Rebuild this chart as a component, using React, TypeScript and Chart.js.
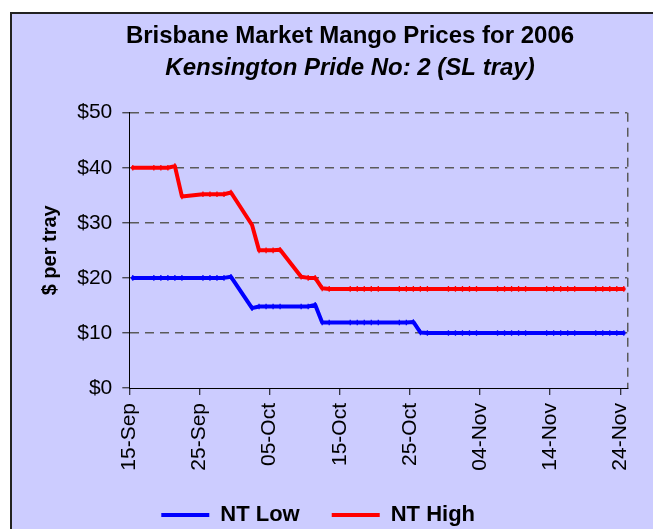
import React, { useEffect, useRef } from 'react';
import { Chart, registerables } from 'chart.js';

Chart.register(...registerables);

const TITLE = 'Brisbane Market Mango Prices for 2006';
const SUBTITLE = 'Kensington Pride No: 2 (SL tray)';
const Y_TITLE = '$ per tray';
const SERIES_NAMES = ['NT Low', 'NT High'];

// x ticks: days after 15-Sep-2006
const TICK_DAYS = [0, 10, 20, 30, 40, 50, 60, 70];
const TICK_LABELS = ['15-Sep', '25-Sep', '05-Oct', '15-Oct', '25-Oct', '04-Nov', '14-Nov', '24-Nov'];
const AXIS_END_DAY = 71;

// trading days (weekdays) after 15-Sep-2006
const DAYS = [
  0, 3, 4, 5, 6, 7, 10, 11, 12, 13, 14, 17, 18, 19, 20, 21, 24, 25, 26, 27, 28,
  31, 32, 33, 34, 35, 38, 39, 40, 41, 42, 45, 46, 47, 48, 49, 52, 53, 54, 55, 56,
  59, 60, 61, 62, 63, 66, 67, 68, 69, 70,
];

const NT_LOW = [
  20, 20, 20, 20, 20, 20, 20, 20, 20, 20, 20.2, 14.5, 14.8, 14.8, 14.8, 14.8, 14.8, 14.8, 15.1, 11.9, 11.9,
  11.9, 11.9, 11.9, 11.9, 11.9, 11.9, 11.9, 12, 10.1, 10, 10, 10, 10, 10, 10, 10, 10, 10, 10, 10,
  10, 10, 10, 10, 10, 10, 10, 10, 10, 10,
];

const NT_HIGH = [
  40, 40, 40, 40, 40.3, 34.8, 35.2, 35.2, 35.2, 35.2, 35.5, 29.6, 25, 25, 25, 25.1, 20.2, 20, 20, 18.1, 18,
  18, 18, 18, 18, 18, 18, 18, 18, 18, 18, 18, 18, 18, 18, 18, 18, 18, 18, 18, 18,
  18, 18, 18, 18, 18, 18, 18, 18, 18, 18,
];

const FONT = "'Liberation Sans', Arial, sans-serif";

const panelPlugin = {
  id: 'panel',
  beforeDraw(chart: any) {
    const { ctx, width, height } = chart;
    ctx.save();
    ctx.fillStyle = '#ffffff';
    ctx.fillRect(0, 0, width, height);
    ctx.fillStyle = '#CCCCFF';
    ctx.fillRect(11, 12, width - 11, height - 12);
    ctx.strokeStyle = '#222222';
    ctx.lineWidth = 2;
    ctx.beginPath();
    ctx.moveTo(11, height);
    ctx.lineTo(11, 13);
    ctx.lineTo(width, 13);
    ctx.stroke();
    ctx.restore();
  },
};

export default function App() {
  const ref = useRef<HTMLCanvasElement | null>(null);

  useEffect(() => {
    if (!ref.current) return;
    const mk = (vals: number[]) => DAYS.map((d, i) => ({ x: d + 0.5, y: vals[i] }));
    const lineStyle = {
      borderWidth: 4,
      pointStyle: 'line',
      pointRotation: 90,
      pointRadius: 2.8,
      pointBorderWidth: 1.3,
      tension: 0,
      borderJoinStyle: 'round',
      borderCapStyle: 'round',
    };
    const chart = new Chart(ref.current, {
      type: 'line',
      data: {
        datasets: [
          {
            label: SERIES_NAMES[0],
            data: mk(NT_LOW),
            borderColor: '#0000FF',
            backgroundColor: '#0000FF',
            ...lineStyle,
          },
          {
            label: SERIES_NAMES[1],
            data: mk(NT_HIGH),
            borderColor: '#FF0000',
            backgroundColor: '#FF0000',
            ...lineStyle,
          },
        ],
      },
      options: {
        responsive: false,
        animation: false,
        events: [],
        layout: { padding: { left: 11, right: 0, top: 0, bottom: 0 } },
        plugins: {
          tooltip: { enabled: false },
          title: {
            display: true,
            text: TITLE,
            color: '#000',
            font: { family: FONT, size: 24, weight: 'bold' },
            padding: { top: 21.6, bottom: 3.2 },
          },
          subtitle: {
            display: true,
            text: SUBTITLE,
            color: '#000',
            font: { family: FONT, size: 24, weight: 'bold', style: 'italic' },
            padding: { top: 0, bottom: 30.3 },
          },
          legend: {
            position: 'bottom',
            fullSize: false,
            align: 'start',
            maxHeight: 57,
            labels: {
              usePointStyle: true,
              pointStyle: 'line',
              pointStyleWidth: 48,
              color: '#000',
              padding: 32,
              font: { family: FONT, size: 22, weight: 'bold' },
              generateLabels: (c: any) =>
                Chart.defaults.plugins.legend.labels
                  .generateLabels(c)
                  .map((l: any) => ({ ...l, rotation: 0, lineWidth: 4 })),
            },
          },
        },
        scales: {
          x: {
            type: 'linear',
            min: 0,
            max: AXIS_END_DAY,
            afterBuildTicks: (s: any) => {
              s.ticks = [...TICK_DAYS, AXIS_END_DAY].map((v) => ({ value: v }));
            },
            afterFit: (s: any) => {
              s.height = 84;
            },
            ticks: {
              autoSkip: false,
              minRotation: 90,
              maxRotation: 90,
              padding: 8,
              color: '#000',
              font: { family: FONT, size: 21 },
              callback: (v: any) => {
                const i = TICK_DAYS.indexOf(Number(v));
                return i >= 0 ? TICK_LABELS[i] : '';
              },
            },
            grid: {
              drawOnChartArea: true,
              drawTicks: true,
              tickLength: 7,
              lineWidth: 1.5,
              color: (c: any) => (c.tick && c.tick.value === AXIS_END_DAY ? '#5a5a5a' : 'rgba(0,0,0,0)'),
              tickColor: (c: any) => (c.tick && c.tick.value === AXIS_END_DAY ? 'rgba(0,0,0,0)' : '#000'),
              tickWidth: 1,
              tickBorderDash: [],
            },
            border: { display: true, color: '#000', width: 1, dash: [9, 6] },
          },
          y: {
            min: 0,
            max: 50,
            afterFit: (s: any) => {
              s.width = 118.3;
            },
            ticks: {
              stepSize: 10,
              padding: 10,
              color: '#000',
              font: { family: FONT, size: 21 },
              callback: (v: any) => '$' + v,
            },
            title: {
              display: true,
              text: Y_TITLE,
              color: '#000',
              font: { family: FONT, size: 20, weight: 'bold' },
              padding: { top: 27, bottom: 0 },
            },
            grid: {
              color: (c: any) => (c.tick && c.tick.value === 0 ? 'rgba(0,0,0,0)' : '#5a5a5a'),
              lineWidth: 1.5,
              tickLength: 7,
              tickColor: '#333',
              tickWidth: 1.2,
              tickBorderDash: [],
            },
            border: { display: true, color: '#000', width: 1, dash: [9, 6] },
          },
          yRight: {
            position: 'right',
            min: 0,
            max: 50,
            afterFit: (s: any) => {
              s.width = 689 - 627.3;
            },
            ticks: { display: false },
            grid: { drawOnChartArea: false, drawTicks: false },
            border: { display: false },
          },
        },
      },
      plugins: [panelPlugin],
    } as any);
    return () => chart.destroy();
  }, []);

  return (
    <div style={{ position: 'fixed', left: 0, top: 0, width: 653, height: 529, overflow: 'hidden' }}>
      <canvas ref={ref} width={689} height={529} style={{ display: 'block' }} />
    </div>
  );
}
